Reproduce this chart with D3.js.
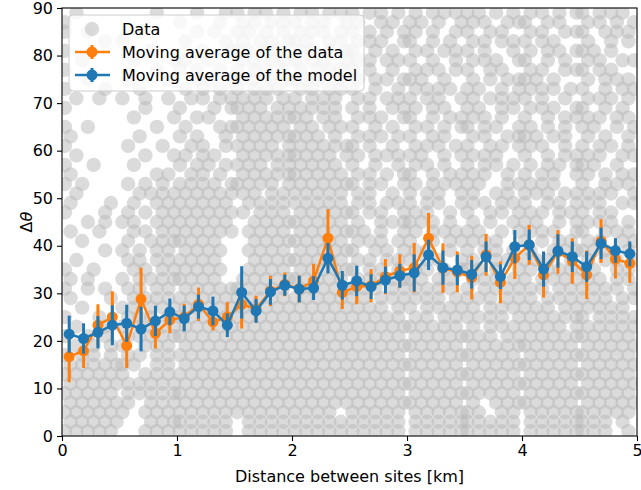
<!DOCTYPE html>
<html>
<head>
<meta charset="utf-8">
<script src="https://cdn.jsdelivr.net/npm/d3@7"></script>
<style>
  body { margin: 0; background: #fff; }
  text { font-family: "DejaVu Sans", sans-serif; }
</style>
</head>
<body>
<div class="chart"></div>
<script>
// moving averages, one bin every 0.125 km
var binCentres = [0.0625, 0.1875, 0.3125, 0.4375, 0.5625, 0.6875, 0.8125, 0.9375, 1.0625, 1.1875,
                  1.3125, 1.4375, 1.5625, 1.6875, 1.8125, 1.9375, 2.0625, 2.1875, 2.3125, 2.4375,
                  2.5625, 2.6875, 2.8125, 2.9375, 3.0625, 3.1875, 3.3125, 3.4375, 3.5625, 3.6875,
                  3.8125, 3.9375, 4.0625, 4.1875, 4.3125, 4.4375, 4.5625, 4.6875, 4.8125, 4.9375]
var dataMean = [16.7, 17.9, 23.3, 25.0, 19.0, 28.8, 21.6, 24.4, 25.0, 27.7,
                24.0, 25.0, 27.7, 26.7, 30.5, 31.9, 30.9, 32.6, 41.6, 30.2,
                31.4, 31.6, 33.5, 34.7, 35.4, 41.6, 35.3, 34.5, 33.3, 38.1,
                32.3, 37.4, 40.2, 33.9, 38.7, 36.8, 33.9, 41.0, 37.2, 36.3]
var dataErr = [5.4, 3.6, 4.4, 5.4, 4.7, 6.6, 3.2, 2.8, 2.8, 3.5,
               1.8, 3.2, 5.1, 2.8, 3.2, 2.5, 2.8, 3.6, 6.1, 3.5,
               3.7, 3.5, 3.7, 3.5, 5.2, 5.3, 5.2, 4.3, 4.6, 4.4,
               4.4, 4.4, 4.2, 4.8, 4.6, 4.8, 5.1, 4.6, 4.1, 4.1]
var modelMean = [21.4, 20.5, 21.8, 23.3, 23.7, 22.5, 24.2, 26.1, 24.7, 27.2,
                 26.3, 23.3, 30.2, 26.3, 30.3, 31.7, 30.9, 31.1, 37.4, 31.7,
                 32.6, 31.4, 32.8, 33.7, 34.3, 38.1, 35.4, 34.9, 34.0, 37.7,
                 33.5, 39.8, 40.2, 35.1, 38.9, 37.7, 35.6, 40.5, 39.0, 38.3]
var modelErr = [3.9, 3.2, 3.4, 4.2, 3.9, 4.7, 3.2, 2.8, 2.7, 2.5,
                3.0, 2.5, 5.5, 2.5, 2.7, 2.2, 2.8, 2.5, 3.2, 3.0,
                3.2, 2.6, 2.8, 2.5, 3.9, 3.2, 3.6, 3.2, 3.0, 3.2,
                2.6, 3.5, 3.2, 3.7, 3.5, 3.2, 3.2, 3.3, 2.6, 2.6]

// raw data cloud: one row per 2 degrees, one char per 0.05 km, '#' = a point
var scatterRowY = [89, 87, 85, 83, 81, 79, 77, 75, 73, 71,
                   69, 67, 65, 63, 61, 59, 57, 55, 53, 51,
                   49, 47, 45, 43, 41, 39, 37, 35, 33, 31,
                   29, 27, 25, 23, 21, 19, 17, 15, 13, 11,
                   9, 7, 5, 3, 1]
var scatterRows = [
  '..#.......|......#...|...#....#.|#..#.#..#.|.#.#..#.#.|#..#.#..#.|.#..#.#.#.|#.#..#..#.|.#.#..#..#|#..#.#.#..',
  '#.........|..........|#......#..|.#.#..#.#.|#..#.#...#|.#...#.#..|#.#..#...#|.#.#...#.#|#...#.#...|.#.#..#..#',
  '#...#.....|...#......|...#..#...|#.#..#..#.|.#.#.#..#.|#..#..#..#|.#..#...#.|#...#.#...|.#.#...#.#|#...#.#.#.',
  '.......#..|#.........|.#......#.|.#..#.#..#|#.#...#.#.|.#.#.#...#|#...#..#..|.#.#..#.#.|#..#.#....|.#...#..#.',
  '#.........|.....#....|....#....#|#.#..#.#..|.#.#..#..#|#...#..#..|.#.#..#.#.|#..#....#.|.#..#.#..#|#.#..#....',
  '...#......|..#......#|.#...#....|.#.#..#.#.|#..#.#...#|.#.#..#.#.|#...#...#.|.#.#.#...#|#...#..#..|.#.#...#.#',
  '#.........|......#...|#..#...#..|#..#.#..#.|.#..#.#.#.|#..#...#..|.#.#.#..#.|#...#.#...|.#.#...#.#|#..#.#....',
  '....#.....|.#......#.|...#.#...#|.#.#..#..#|#.#.#...#.|.#..#.#..#|#.#...#...|.#..#..#.#|#.#..#....|.#..#.#.#.',
  '#......#..|...#......|.#..#..#..|#..#.#.#..|.#.#..#.#.|#...#...#.|.#.#.#.#..|#.#...#..#|.#.#.#..#.|#...#..#.#',
  '..#...#...|#...#...#.|..#.#..#.#|.#.#.#..#.|#..#.#.#..|.#.#..#.#.|#..#.#...#|.#..#.#.#.|#..#...#..|.#.#.#..#.',
  '#.........|....#.....|#.....#..#|#.#.#..#.#|.#.#.#.#..|#..#...#.#|.#..#.#...|#.#...#.#.|.#.#.#...#|#...#..#..',
  '..........|..#......#|...#.#....|.#.#.#.#.#|#.#..#.#..|.#.#.#...#|#...#..#.#|.#.#..#...|#...#..#.#|.#.#..#.#.',
  '#...#.....|......#...|.#.....#.#|#.#.#.#.#.|.#.#..#.#.|#...#..#..|.#.#..#..#|#..#.#...#|.#..#..#..|#.#...#..#',
  '.#........|...#......|#..#....#.|.#.#.#.#.#|#.#.#..#..|.#.#.#..#.|#...#.#...|.#.#...#.#|#.#..#.#..|.#..#...#.',
  '#.........|.#.....#..|..#.#...#.|#.#.#.#..#|.#.#.#.#.#|#..#...#..|.#.#.#..#.|#...#.#..#|.#.#...#..|#..#.#..#.',
  '..#.......|....#....#|.#..#.#...|.#.#.#.#.#|#.#.#.#..#|.#..#.#.#.|#.#...#..#|.#.#.#....|#...#..#.#|.#.#...#.#',
  '#....#....|..#.......|#..#.#..#.|#.#.#..#.#|.#.#.#.#..|#...#...#.|.#.#..#...|#..#.#..#.|.#..#.#..#|#.#...#...',
  '.#........|......#.#.|..#.#..#..|.#.#.#.#.#|#.#.#.#.#.|.#.#..#..#|#...#..#.#|.#.#...#..|#..#.#...#|.#..#..#.#',
  '#..#......|.#..#..#..|#.#.#.#..#|#.#.#.#..#|.#.#.#.#.#|#..#.#...#|.#..#.#.#.|#.#....#.#|.#.#.#....|#...#.#.#.',
  '..#.......|...#.#.#.#|.#.#.#.#.#|.#.#..#.#.|#.#.#.#.#.|.#.#...#..|#..#.#...#|.#...#.#..|#.#.#..#.#|.#.#.#...#',
  '.#......#.|..#...#.#.|#.#.#.#.#.|..#.#.#.#.|#.#.#.#.#.|.#.#..#.#.|#..#.#...#|.#.#..#.#.|#...#.#..#|.#.#...#.#',
  '#......#..|.#..#..#.#|.#.#.#.#.#|.#..#.#.#.|.#.#.#.#.#|#..#.#...#|.#.#...#..|#...#.#..#|.#.#..#.#.|#..#.#....',
  '....#..#..|#.#...#.#.|#.#.#.#.#.|...#.#.#.#|#.#.#.#.#.|.#...#.#.#|#.#.#..#..|.#..#...#.|#.#...#..#|.#.#.#..#.',
  '.#....#...|..#.#..#.#|.#.#.#.#.#|..#.#.#.#.|.#.#.#.#.#|#.#..#...#|.#..#.#.#.|#.#...#..#|.#.#.#...#|#...#.#.#.',
  '...#......|.#...#.#.#|#.#.#.#...|...#.#.#.#|#.#.#.#.#.|.#.#.#..#.|#...#..#.#|.#.#.#....|#..#..#.#.|.#.#...#.#',
  '.......#..|#..#..#.#.|.#.#.#.#..|..#.#.#.#.|.#.#.#.#.#|#...#.#..#|.#.#...#..|#..#.#..#.|.#...#.#.#|#.#.#...#.',
  '..#.......|.#.#..#.#.|#.#.#.#...|...#.#.#.#|#.#.#.#.#.|.#.#..#.#.|#..#.#...#|.#...#.#..|#.#.#...#.|.#..#.#..#',
  '#....#....|..#.#..#.#|.#.#.#.#..|..#.#.#.#.|.#.#.#.#.#|#..#.#..#.|.#.#..#..#|#.#..#...#|.#..#.#.#.|#.#...#.#.',
  '.#..#.....|#..#.#.#.#|#.#.#.#...|.#.#.#.#.#|#.#.#.#.#.|.#.#.#.#.#|#.#..#.#..|.#.#.#..#.|#..#.#.#.#|.#.#..#.#.',
  '#...#..#..|.#.#..#.#.|.#.#.#.#.#|#.#.#.#.#.|.#.#.#.#.#|#.#.#..#.#|.#.#.#.#..|#..#.#.#.#|.#.#..#.#.|#.#.#.#..#',
  '.#......#.|..#.#.#.#.|#.#.#.#.#.|#.#.#.#.#.|#.#.#.#.#.|#.#..#.#.#|.#.#.#..#.|#.#.#..#.#|.#..#.#.#.|#.#.#..#.#',
  '...#......|#.#..#.#.#|.#.#.#.#.#|.#.#.#.#.#|.#.#.#.#.#|.#.#.#..#.|#..#.#.#.#|.#..#.#.#.|#.#.#..#.#|.#.#.#.#..',
  '#.....#...|.#.#.#..#.|#.#.#.#.#.|#.#.#.#.#.|#.#.#.#.#.|#.#.#.#.#.|.#.#..#.#.|#.#.#.#..#|.#.#.#.#.#|#..#.#.#.#',
  '..#....#..|#..#.#.#.#|.#.#.#.#.#|.#.#.#.#.#|.#.#.#.#.#|.#.#.#.#.#|#.#.#.#.#.|.#..#.#.#.|#.#.#.#..#|.#.#.#.#.#',
  '#...#..#..|.#.#.#.#.#|#.#.#.#.#.|#.#.#.#.#.|#.#.#.#.#.|#.#.#.#.#.|.#.#.#.#.#|#.#.#..#.#|.#.#.#.#.#|#.#.#.#.#.',
  '..#..#..#.|#...#.#.#.|.#.#.#.#.#|.#.#.#.#.#|.#.#.#.#.#|.#.#.#.#.#|#.#.#.#.#.|.#.#.#.#.#|#.#.#.#.#.|.#.#.#.#.#',
  '#..#.#..#.|.#.#..#.#.|#.#.#.#.#.|#.#.#.#.#.|#.#.#.#.#.|#.#.#.#.#.|.#.#.#.#.#|#.#.#.#.#.|.#.#.#.#.#|#.#.#.#.#.',
  '.#.#.#.#.#|#.#...#.#.|.#.#.#.#.#|.#.#.#.#.#|.#.#.#.#.#|.#.#.#.#.#|#.#.#.#.#.|.#.#.#.#.#|#.#.#.#.#.|.#.#.#.#.#',
  '#.#.#.#.#.|#...#.#.#.|#.#.#.#.#.|#.#.#.#.#.|#.#.#.#.#.|#.#.#.#.#.|.#.#.#.#.#|#.#.#.#.#.|.#.#.#.#.#|#.#.#.#.#.',
  '.#.#.#.#.#|.#.#.#.#.#|.#.#.#.#.#|.#.#.#.#.#|.#.#.#.#.#|.#.#.#.#.#|#.#.#.#.#.|.#.#.#.#.#|#.#.#.#.#.|.#.#.#.#.#',
  '#.#.#.#.#.|.#.#.#.#.#|#.#.#.#.#.|#.#.#.#.#.|#.#.#.#.#.|#.#.#.#.#.|.#.#.#.#.#|#.#.#.#.#.|.#.#.#.#.#|#.#.#.#.#.',
  '.#.#.#.#.#|.#...#.#.#|.#.#.#.#.#|.#.#.#.#.#|.#.#.#.#.#|.#.#.#.#.#|#.#.#.#.#.|.#...#.#.#|#.#.#.#.#.|.#.#.#.#.#',
  '#.#.#.#.#.|#...#.#.#.|#.#.#.#.#.|#.#.#.#.#.|#.#.#.#...|#.#.#.#.#.|.#.#.#.#.#|#.#...#.#.|.#.#.#.#.#|#.#.#.#.#.',
  '.#.#.#.#.#|.....#.#.#|#.#.#.#.#.|..#.#.#.#.|#.#.#.#.#.|#.#.#.#.#.|.#.#.#.#.#|#.#.#.#.#.|.#.#.#.#.#|#.#.#..#..',
  '#.#.#.#.#.|....#.#.#.|#.#.#.#.#.|..#.#.#.#.|#.#.#.#.#.|#.#.#.#.#.|.#.#.#.#.#|#.#.#.#.#.|.#.#.#.#.#|#.#.#...#.'
]
var xTicks = [0, 1, 2, 3, 4, 5]
var yTicks = [0, 10, 20, 30, 40, 50, 60, 70, 80, 90]
var legendLabels = ['Data', 'Moving average of the data', 'Moving average of the model']

var orange = '#ff7f0e', blue = '#1f77b4'
var dotFill = '#b8b8b8', dotOpacity = 0.5, dotR = 7.2
var width = 641, height = 490
var margin = { left: 62, right: 4, top: 8, bottom: 54 }

var x = d3.scaleLinear().domain([0, 5]).range([margin.left, width - margin.right])
var y = d3.scaleLinear().domain([0, 90]).range([height - margin.bottom, margin.top])
var col = d3.scaleBand().domain(d3.range(100)).range([0, 5])

var points = []
scatterRows.forEach((row, r) => {
  row.replace(/\|/g, '').split('').forEach((ch, c) => {
    if (ch === '#')
      points.push({ x: col(c) + col.bandwidth() / 2, y: scatterRowY[r] })
  })
})

var svg = d3.select('.chart').append('svg')
  .attr('width', width).attr('height', height)

svg.append('clipPath').attr('id', 'plotClip')
  .append('rect')
  .attr('x', x(0)).attr('y', y(90))
  .attr('width', x(5) - x(0)).attr('height', y(0) - y(90))

var plot = svg.append('g').attr('clip-path', 'url(#plotClip)')

plot.append('g').selectAll('circle')
  .data(points)
  .enter().append('circle')
  .attr('cx', (d) => x(d.x))
  .attr('cy', (d) => y(d.y))
  .attr('r', dotR)
  .attr('fill', dotFill)
  .attr('fill-opacity', dotOpacity)

var drawSeries = (means, errs, color) => {
  var g = plot.append('g')
  g.selectAll('line.err')
    .data(means)
    .enter().append('line')
    .attr('x1', (d, i) => x(binCentres[i]))
    .attr('x2', (d, i) => x(binCentres[i]))
    .attr('y1', (d, i) => y(d - errs[i]))
    .attr('y2', (d, i) => y(d + errs[i]))
    .attr('stroke', color)
    .attr('stroke-width', 3)
  g.append('path')
    .datum(means)
    .attr('d', d3.line().x((d, i) => x(binCentres[i])).y((d) => y(d)))
    .attr('fill', 'none')
    .attr('stroke', color)
    .attr('stroke-width', 2.5)
  g.selectAll('circle')
    .data(means)
    .enter().append('circle')
    .attr('cx', (d, i) => x(binCentres[i]))
    .attr('cy', (d) => y(d))
    .attr('r', 5.5)
    .attr('fill', color)
}
drawSeries(dataMean, dataErr, orange)
drawSeries(modelMean, modelErr, blue)

// axes
var xAxis = svg.append('g')
  .attr('transform', 'translate(0,' + y(0) + ')')
  .call(d3.axisBottom(x).tickValues(xTicks).tickFormat(d3.format('d')).tickSize(5).tickPadding(4))
var yAxis = svg.append('g')
  .attr('transform', 'translate(' + x(0) + ',0)')
  .call(d3.axisLeft(y).tickValues(yTicks).tickFormat(d3.format('d')).tickSize(5).tickPadding(4))
;[xAxis, yAxis].forEach((a) => {
  a.select('.domain').remove()
  a.selectAll('.tick line').attr('stroke', '#000').attr('stroke-width', 1.1)
  a.selectAll('.tick text').attr('fill', '#000').style('font-size', '16px')
    .style('font-family', '"DejaVu Sans", sans-serif')
})
svg.append('rect')
  .attr('x', x(0)).attr('y', y(90))
  .attr('width', x(5) - x(0)).attr('height', y(0) - y(90))
  .attr('fill', 'none').attr('stroke', '#000').attr('stroke-width', 1.1)

svg.append('text')
  .attr('x', (x(0) + x(5)) / 2).attr('y', 482)
  .attr('text-anchor', 'middle').style('font-size', '16px')
  .text('Distance between sites [km]')
var yl = svg.append('text')
  .attr('transform', 'translate(32,' + y(45) + ') rotate(-90)')
  .attr('text-anchor', 'middle').style('font-size', '16px')
yl.append('tspan').text('Δ')
yl.append('tspan').style('font-style', 'italic').text('θ')

// legend
var legend = svg.append('g').attr('transform', 'translate(69,15)')
legend.append('rect')
  .attr('width', 295).attr('height', 76).attr('rx', 4)
  .attr('fill', '#fff').attr('fill-opacity', 0.8)
  .attr('stroke', '#cccccc').attr('stroke-width', 1)
var rowY = [14, 37, 60]
legend.append('circle').attr('cx', 23).attr('cy', rowY[0]).attr('r', dotR)
  .attr('fill', dotFill).attr('fill-opacity', dotOpacity)
;[orange, blue].forEach((c, k) => {
  var cy = rowY[k + 1]
  legend.append('line').attr('x1', 6).attr('x2', 41).attr('y1', cy).attr('y2', cy)
    .attr('stroke', c).attr('stroke-width', 2.5)
  legend.append('line').attr('x1', 23).attr('x2', 23).attr('y1', cy - 7).attr('y2', cy + 7)
    .attr('stroke', c).attr('stroke-width', 3)
  legend.append('circle').attr('cx', 23).attr('cy', cy).attr('r', 5.5).attr('fill', c)
})
legend.selectAll('text.lab')
  .data(legendLabels)
  .enter().append('text')
  .attr('x', 53).attr('y', (d, i) => rowY[i])
  .attr('dy', '0.35em')
  .style('font-size', '16px')
  .text((d) => d)
</script>
</body>
</html>
